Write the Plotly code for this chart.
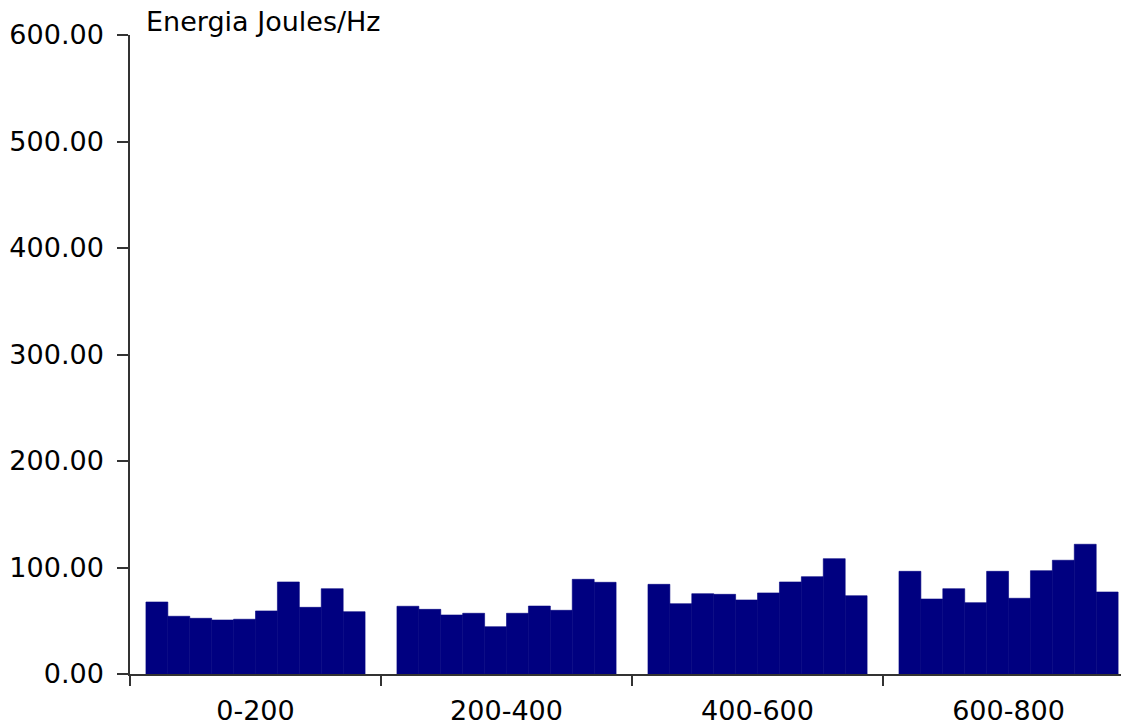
import plotly.graph_objects as go

categories = ["0-200", "200-400", "400-600", "600-800"]

# Energy per band: 10 sub-bars within each category
group_0_200 = [67.6, 54.2, 52.3, 50.7, 51.4, 59.2, 86.4, 62.6, 80.1, 58.5]
group_200_400 = [63.6, 60.7, 55.4, 57.0, 44.4, 57.0, 63.8, 59.8, 88.9, 86.1]
group_400_600 = [84.2, 66.0, 75.4, 74.8, 69.5, 76.1, 86.4, 91.4, 108.3, 73.5]
group_600_800 = [96.4, 70.4, 80.1, 67.0, 96.4, 71.1, 97.0, 106.8, 121.8, 77.0]

y_ticks = [0, 100, 200, 300, 400, 500, 600]
y_ticktext = ["0.00", "100.00", "200.00", "300.00", "400.00", "500.00", "600.00"]

groups = [group_0_200, group_200_400, group_400_600, group_600_800]
n_sub = len(group_0_200)

FONT = "DejaVu Sans"
FS = 27
NAVY = "#000080"

fig = go.Figure()
for i in range(n_sub):
    fig.add_trace(go.Bar(
        x=categories,
        y=[g[i] for g in groups],
        marker=dict(color=NAVY, line=dict(color=NAVY, width=0.6)),
        showlegend=False,
        hoverinfo="x+y",
    ))

fig.update_layout(
    width=1121, height=725,
    margin=dict(l=130, r=0, t=35, b=51),
    paper_bgcolor="white", plot_bgcolor="white",
    barmode="group", bargap=0.127, bargroupgap=0,
    font=dict(family=FONT, size=FS, color="black"),
    xaxis=dict(
        type="category",
        range=[-0.5, 3.448],
        showgrid=False,
        showline=True, linecolor="#333333", linewidth=1.5,
        ticks="outside", tickson="boundaries", ticklen=10,
        tickcolor="#333333", tickwidth=1.5,
        tickfont=dict(family=FONT, size=FS),
        ticklabelstandoff=12,
        zeroline=False,
    ),
    yaxis=dict(
        range=[0, 600],
        tickvals=y_ticks, ticktext=y_ticktext,
        showgrid=False,
        showline=True, linecolor="#333333", linewidth=1.5,
        ticks="outside", ticklen=11, tickcolor="#333333", tickwidth=1.5,
        tickfont=dict(family=FONT, size=FS),
        ticklabelstandoff=8,
        zeroline=False,
    ),
    annotations=[dict(
        text="Energia Joules/Hz",
        xref="paper", yref="paper",
        x=14 / 991, y=1 + 13 / 639,
        xanchor="left", yanchor="middle",
        showarrow=False,
        font=dict(family=FONT, size=FS, color="black"),
    )],
)

fig.write_html(
    "out.html",
    config={"displayModeBar": False},
    post_script="document.body.style.margin='0';document.body.style.overflow='hidden';",
)
